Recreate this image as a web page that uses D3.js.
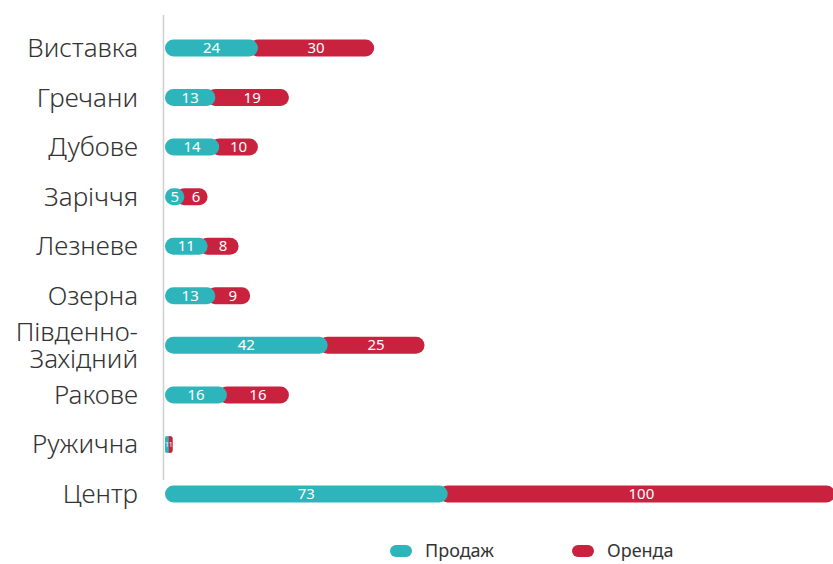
<!DOCTYPE html>
<html>
<head>
<meta charset="utf-8">
<script src="https://cdn.jsdelivr.net/npm/d3@7"></script>
<style>
  body { margin: 0; background: #fff; }
  svg { display: block; font-family: "Noto Sans", "DejaVu Sans", sans-serif; }
</style>
</head>
<body>
<svg id="chart" width="833" height="564"></svg>
<script>
var categories = ["Виставка", "Гречани", "Дубове", "Заріччя", "Лезневе", "Озерна", "Південно-Західний", "Ракове", "Ружична", "Центр"];
var labelLines = [["Виставка"], ["Гречани"], ["Дубове"], ["Заріччя"], ["Лезневе"], ["Озерна"], ["Південно-", "Західний"], ["Ракове"], ["Ружична"], ["Центр"]];
var sales = [24, 13, 14, 5, 11, 13, 42, 16, 1, 73];
var rent = [30, 19, 10, 6, 8, 9, 25, 16, 1, 100];
var seriesNames = ["Продаж", "Оренда"];
var colors = ["#2db5bb", "#c9223f"];

var svg = d3.select("#chart");

var x = d3.scaleLinear()
        .domain([0, 173])
        .range([165, 835]);

var y = d3.scalePoint()
        .domain(categories)
        .range([48, 494]);

var barH = 17, r = 8.5;

// axis line
svg.append("line")
        .attr("x1", 163.5).attr("x2", 163.5)
        .attr("y1", 15).attr("y2", 480)
        .attr("stroke", "#cfcfcf")
        .attr("stroke-width", 1.5);

var rows = svg.selectAll("g.row")
        .data(categories)
    .enter().append("g")
        .attr("class", "row")
        .attr("transform", function(d) { return "translate(0," + y(d) + ")"; });

// category labels
rows.append("text")
        .attr("x", 138)
        .attr("text-anchor", "end")
        .attr("font-size", 26)
        .attr("font-weight", 300)
        .attr("fill", "#333")
        .each(function(d, i) {
            var lines = labelLines[i];
            var t = d3.select(this);
            lines.forEach(function(l, j) {
                t.append("tspan")
                    .attr("x", 138)
                    .attr("y", (j - (lines.length - 1) / 2) * 27 + 9)
                    .text(l);
            });
        });

// rent segment first (teal overlaps its rounded left end)
function rentX(i) { return Math.max(x(0) + 2, x(sales[i]) - r); }
rows.append("rect")
        .attr("x", function(d, i) { return rentX(i); })
        .attr("y", -barH / 2)
        .attr("width", function(d, i) { return x(sales[i] + rent[i]) - rentX(i); })
        .attr("height", barH)
        .attr("rx", function(d, i) { return Math.min(r, (x(sales[i] + rent[i]) - rentX(i)) / 2); })
        .attr("fill", colors[1]);

rows.append("rect")
        .attr("x", x(0))
        .attr("y", -barH / 2)
        .attr("width", function(d, i) { return x(sales[i]) - x(0); })
        .attr("height", barH)
        .attr("rx", function(d, i) { return Math.min(r, (x(sales[i]) - x(0)) / 2); })
        .attr("fill", colors[0]);

function valueSize(v) { return v < 3 ? 7 : 15; }

rows.append("text")
        .attr("x", function(d, i) { return (x(0) + x(sales[i])) / 2; })
        .attr("y", function(d, i) { return valueSize(sales[i]) / 3; })
        .attr("text-anchor", "middle")
        .attr("font-size", function(d, i) { return valueSize(sales[i]); })
        .attr("fill", "#fff")
        .text(function(d, i) { return sales[i]; });

rows.append("text")
        .attr("x", function(d, i) { return (x(sales[i]) + x(sales[i] + rent[i])) / 2; })
        .attr("y", function(d, i) { return valueSize(rent[i]) / 3; })
        .attr("text-anchor", "middle")
        .attr("font-size", function(d, i) { return valueSize(rent[i]); })
        .attr("fill", "#fff")
        .text(function(d, i) { return rent[i]; });

// legend
var legend = svg.selectAll("g.legend")
        .data(seriesNames)
    .enter().append("g")
        .attr("class", "legend")
        .attr("transform", function(d, i) { return "translate(" + (390 + i * 182) + ",551)"; });

legend.append("rect")
        .attr("x", 0).attr("y", -6)
        .attr("width", 22).attr("height", 12)
        .attr("rx", 6)
        .attr("fill", function(d, i) { return colors[i]; });

legend.append("text")
        .attr("x", 35).attr("y", 6)
        .attr("font-size", 18)
        .attr("fill", "#333")
        .text(function(d) { return d; });
</script>
</body>
</html>
